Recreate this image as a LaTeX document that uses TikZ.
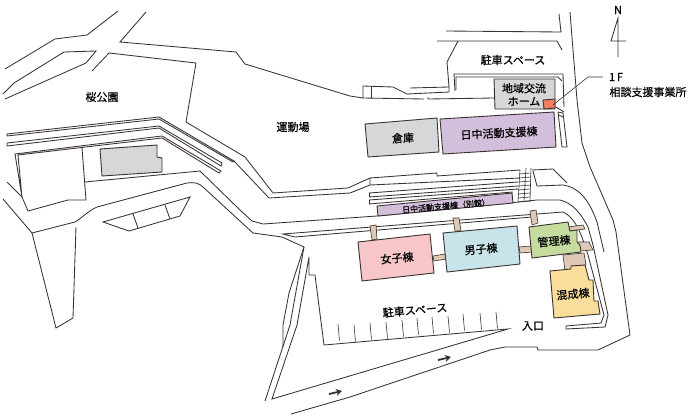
\documentclass[tikz,border=0pt]{standalone}
\usepackage{fontspec}
\setmainfont[FakeBold=0.6]{Noto Sans CJK JP}
\usetikzlibrary{arrows.meta}
\definecolor{ink}{HTML}{3A3230}
\definecolor{bgray}{HTML}{D5D7D8}
\definecolor{bpurple}{HTML}{D3BFDC}
\definecolor{bpink}{HTML}{F6C6C8}
\definecolor{bblue}{HTML}{C6E4EA}
\definecolor{bgreen}{HTML}{C6DB9E}
\definecolor{byellow}{HTML}{FADD9A}
\definecolor{btan}{HTML}{DEC9B7}
\definecolor{borange}{HTML}{EF7F5F}
\tikzset{
  road/.style={draw=ink,line width=0.85pt,line join=miter},
  bld/.style={draw=ink,line width=0.9pt},
  lnk/.style={draw=ink,line width=0.6pt,fill=btan},
  lab/.style={inner sep=0pt,text=black,font=\fontsize{11}{13}\selectfont,align=center},
  flow/.style={draw=ink,line width=1.8pt,-{Stealth[length=6pt,width=7pt]}}
}
\begin{document}
\begin{tikzpicture}[x=1pt,y=-1pt]
\useasboundingbox (0,0) rectangle (691,418);
% upper-left roads
\draw[road] (5,69)--(55,39)--(87,35)--(118,11);
\draw[road] (3,94)--(14,83)--(64,52)--(96,51)--(86,63)--(5,99);
\draw[road] (92,71)--(109,53)--(196,63)--(186,122)--(245,157)--(273,193)--(348,188)--(370,178)--(370,185);
\draw[road] (370,178)--(437,173)--(437,176)--(520,170);
\draw[road] (532,170)--(553,169)--(567,183);
\draw[road] (146,12)--(120,42)--(236,52)--(245,64)--(350,96)--(363,98)--(363,86)--(393,87)--(407,94)--(449,92)--(449,87)--(410,88);
\draw[road] (371,86)--(371,98);
\draw[road] (363,98)--(424,99);
\draw[road] (428,97)--(428,99)--(494,98);
\draw[road] (449,87)--(447,62)--(458,41);
\draw[road] (437,41)--(557,41)--(562,50);
\draw[road] (446,31)--(561,32)--(559,14);
\draw[road] (455,91)--(454,74)--(563,74)--(564,107);
\draw[road] (456,90)--(456,77)--(558,77)--(562,81);
\draw[road] (556,107)--(564,112);
\draw[road] (558,112)--(562,147)--(567,147)--(563,113)--(558,112);
\draw[road] (559,115)--(563,117);
% park strips
\draw[road] (7,134)--(159,117)--(234,161)--(233,162)--(159,119)--(7,136)--cycle;
\draw[road] (7,143)--(159,126)--(222,163)--(221,166)--(159,128)--(7,146)--cycle;
\draw[road] (234,161)--(269,198)--(350,193)--(370,185)--(520,178);
\draw[road] (22,197)--(15,154)--(162,136)--(221,171)--(219,173)--(162,138)--(18,155)--(22,197)--(28,211)--(68,200)--(86,200)--(82,148);
\draw[road] (85,182)--(200,171)--(240,210)--(252,221)--(263,224)--(377,216)--(500,204)--(537,200)--(560,200)
  .. controls (572,203) and (580,212) .. (588,227)--(593,245)--(608,315)--(605,327)--(566,329)--(566,326)--(601,323)--(604,315)--(588,255)--(583,240)
  .. controls (578,226) and (572,216) .. (563,212)--(537,214);
\draw[road] (7,182)--(22,197);
\draw[road] (3,199)--(32,233)--(75,222) .. controls (82,218) and (88,211) .. (97,207)--(187,183) .. controls (194,182) and (199,183) .. (203,187)--(253,233)--(282,237)--(304,247);
\draw[road] (32,233)--(56,328)--(73,318)--(76,227);
% island
\draw[road] (103,222)--(190,197)--(180,216)--(129,231)--cycle;
\draw[road] (133,214)--(138,228);
\draw[road] (165,205)--(170,219);
% strips before frontage
\draw[road] (537,214)--(283,234)--(295,237)--(532,217);
% strips above annex
\draw[road] (369,193)--(518,182);
\draw[road] (369,197)--(518,186);
\draw[road] (369,193)--(369,197);
\draw[road] (369,200)--(518,189);
\draw[road] (369,204)--(513,192);
\draw[road] (369,200)--(369,204);
% stairs
\draw[road,line width=0.6pt] (520,170)--(518,202) (526,168)--(524,202) (531,168)--(530,202)
 (519,174)--(531,173) (519,178)--(531,177) (519,182)--(531,181) (519,186)--(531,185) (518,190)--(530,189) (518,194)--(530,193) (518,198)--(530,197) (518,202)--(530,201);
\draw[road] (533,171)--(537,186)--(563,185) .. controls (577,187) and (588,197) .. (597,222)--(604,252);
\draw[road] (570,12)--(577,100)--(582,143)--(590,167)--(597,183)--(613,220)--(616,232)--(630,335)--(598,350)--(538,350)--(537,347)--(505,347)--(490,350)--(350,397)--(291,414);
% lower left road
\draw[road] (304,247)--(289,293)--(283,325)--(283,347);
\draw[road] (304,247)--(290,325)--(265,401);
\draw[road] (309,257)--(309,275)--(315,275)--(324,345)--(508,329)--(272,399)--(297,325)--(309,257);
% parking ticks
\foreach \xa/\ya in {338/324,354/325,370/323,386/322,402/320,417/318,432/317,448/316,463/314,480/313,496/312}
  \draw[road,line width=0.6pt] (\xa,\ya)--({\xa+1.5},{\ya+16.5});
% links
\draw[lnk] (370,226)--(376,225)--(377,239)--(372,240)--cycle;
\draw[lnk] (453,218)--(459,218)--(461,231)--(455,231)--cycle;
\draw[lnk] (530,211)--(536,210)--(538,223)--(532,225)--cycle;
\draw[lnk] (433,256)--(445,254)--(446,259)--(434,261)--cycle;
\draw[lnk] (519,247)--(531,246)--(532,252)--(520,253)--cycle;
\draw[lnk] (568,227)--(583,225)--(585,229)--(570,231)--cycle;
\draw[lnk] (577,242)--(589,242)--(593,250)--(580,251)--cycle;
\draw[lnk] (563,255)--(584,253)--(586,265)--(572,266)--(572,270)--(565,271)--cycle;
% buildings
\draw[bld,fill=bgray] (100,149)--(157,145)--(157,157)--(162,158)--(162,172)--(102,176)--cycle;
\draw[bld,fill=bgray] (494,79)--(555,79)--(555,109)--(495,109)--cycle;
\draw[bld,fill=borange] (543,100)--(555,99)--(555,108)--(544,109)--cycle;
\draw[bld,fill=bgray] (365,124)--(437,118)--(439,152)--(368,157)--cycle;
\draw[bld,fill=bpurple] (440,119)--(554,112)--(556,147)--(443,154)--cycle;
\draw[bld,fill=bpurple] (377,206)--(512,193)--(513,203)--(378,216)--cycle;
\draw[bld,fill=bpink] (358,242)--(430,234)--(434,273)--(362,281)--cycle;
\draw[bld,fill=bblue] (443,233)--(517,226)--(520,264)--(447,272)--cycle;
\draw[bld,fill=bgreen] (529,227)--(568,222)--(570,231)--(577,230)--(577,242)--(580,245)--(581,252)--(532,258)--cycle;
\draw[bld,fill=byellow] (550,271)--(571,269)--(571,266)--(585,265)--(589,280)--(593,280)--(594,301)--(598,301)--(600,314)--(554,318)--cycle;
% north arrow
\draw[road] (618,57)--(618,18)--(611,41)--(626,41);
% leader
\coordinate (oA) at (553,105);
\coordinate (oB) at (588,77);
\coordinate (oC) at (603,77);
\draw[road,line width=0.6pt] (oA)--(oB)--(oC);
% flow arrows
\coordinate (f1a) at (438,360); \coordinate (f1b) at (451,357);
\coordinate (f2a) at (329,394); \coordinate (f2b) at (342,391);
\draw[flow] (f1a)--(f1b);
\draw[flow] (f2a)--(f2b);
% labels
\node[lab] (tn) at (618,10) {N};
\node[lab] (tpark) at (102,97) {桜公園};
\node[lab] (tground) at (293,127) {運動場};
\node[lab] (tp1) at (513,60) {駐車スペース};
\node[lab] (thome) at (524,94.5) {地域交流\\ホーム};
\node[lab] (t1f) at (616,77) {1\,F};
\node[lab] (toff) at (648,92) {相談支援事業所};
\node[lab,rotate=3] (tso) at (403,138) {倉庫};
\node[lab,rotate=3] (tday) at (499,133) {日中活動支援棟};
\node[lab,rotate=5,font=\fontsize{8}{10}\selectfont] (tann) at (446,206) {日中活動支援棟（別館）};
\node[lab,rotate=5] (tw) at (397,258) {女子棟};
\node[lab,rotate=5] (tm) at (481,249) {男子棟};
\node[lab,rotate=5] (tk) at (554,241) {管理棟};
\node[lab,rotate=5] (tx) at (573,294) {混成棟};
\node[lab,rotate=5] (tp2) at (415,310) {駐車スペース};
\node[lab] (tin) at (533,326) {入口};
\end{tikzpicture}
\end{document}
